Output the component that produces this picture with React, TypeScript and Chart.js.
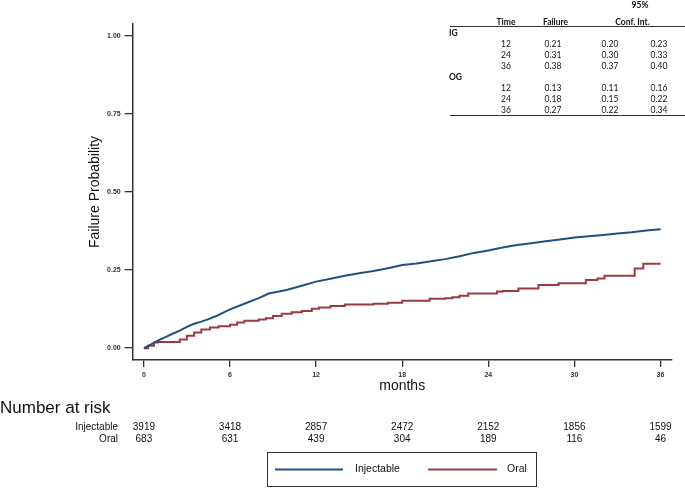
import React, { useEffect, useRef } from "react";
import { Chart, registerables } from "chart.js";

Chart.register(...registerables);

// ---- Data ----
const injMonths = [0, 0.5, 1, 1.5, 2, 2.5, 3, 3.5, 4, 4.5, 5, 5.5, 6, 7, 8, 8.7, 9.5, 10, 11, 12, 13, 14, 15, 16, 17, 18, 19, 20, 21, 22, 23, 24, 25, 26, 27, 28, 29, 30, 31, 32, 33, 34, 35, 36];
const injValues = [0, 0.012, 0.025, 0.035, 0.046, 0.056, 0.068, 0.078, 0.085, 0.093, 0.102, 0.113, 0.124, 0.142, 0.16, 0.175, 0.182, 0.187, 0.2, 0.213, 0.222, 0.232, 0.24, 0.247, 0.256, 0.266, 0.271, 0.278, 0.285, 0.294, 0.305, 0.313, 0.322, 0.33, 0.336, 0.342, 0.348, 0.354, 0.358, 0.362, 0.367, 0.371, 0.377, 0.381];

const oralMonths = [0, 0.3, 0.7, 1.0, 2.5, 3.0, 3.5, 4.0, 4.6, 5.2, 6.0, 6.5, 7.0, 8.0, 8.5, 9.0, 9.6, 10.3, 11.0, 11.7, 12.2, 13.0, 14.0, 16.0, 17.0, 18.0, 19.9, 21.0, 21.5, 22.0, 22.6, 24.6, 25.0, 26.1, 27.5, 28.9, 30.8, 31.6, 32.1, 34.2, 34.8, 36];
const oralValues = [0, 0.008, 0.018, 0.02, 0.028, 0.04, 0.05, 0.06, 0.066, 0.07, 0.075, 0.082, 0.088, 0.092, 0.096, 0.103, 0.11, 0.115, 0.119, 0.126, 0.13, 0.135, 0.14, 0.142, 0.145, 0.152, 0.158, 0.16, 0.163, 0.168, 0.175, 0.181, 0.183, 0.191, 0.202, 0.208, 0.218, 0.223, 0.232, 0.255, 0.27, 0.27];

const xTicks = [0, 6, 12, 18, 24, 30, 36];
const yTicks = [0, 0.25, 0.5, 0.75, 1.0];

const injectableAtRisk = [3919, 3418, 2857, 2472, 2152, 1856, 1599];
const oralAtRisk = [683, 631, 439, 304, 189, 116, 46];

const tableTimes = [12, 24, 36];
const igFailure = [0.21, 0.31, 0.38];
const igLower = [0.2, 0.3, 0.37];
const igUpper = [0.23, 0.33, 0.4];
const ogFailure = [0.13, 0.18, 0.27];
const ogLower = [0.11, 0.15, 0.22];
const ogUpper = [0.16, 0.22, 0.34];

const BLUE = "#22507e";
const RED = "#9c3a42";
const SANS = '"Liberation Sans", Arial, sans-serif';
const TABLEFONT = 'Lato, "Open Sans", sans-serif';

export default function App() {
  const ref = useRef<HTMLCanvasElement>(null);

  useEffect(() => {
    if (!ref.current) return;

    const overlay = {
      id: "overlay",
      afterDraw(chart: any) {
        const ctx = chart.ctx as CanvasRenderingContext2D;
        const xs = chart.scales.x;
        ctx.save();

        // ---- Number at risk ----
        ctx.fillStyle = "#111";
        ctx.font = `17px ${SANS}`;
        ctx.textAlign = "left";
        ctx.textBaseline = "alphabetic";
        ctx.fillText("Number at risk", 0, 413);

        ctx.font = `10px ${SANS}`;
        ctx.textBaseline = "middle";
        ctx.textAlign = "right";
        ctx.fillText("Injectable", 118, 427);
        ctx.fillText("Oral", 118, 439.5);
        ctx.textAlign = "center";
        xTicks.forEach((m, i) => {
          const px = xs.getPixelForValue(m);
          ctx.fillText(String(injectableAtRisk[i]), px, 427);
          ctx.fillText(String(oralAtRisk[i]), px, 439.5);
        });

        // ---- Legend ----
        ctx.strokeStyle = "#333";
        ctx.lineWidth = 1;
        ctx.strokeRect(267.5, 452.5, 269, 34);
        const ds = chart.data.datasets;
        const legendItems = [
          { x0: 275, x1: 343, tx: 355 },
          { x0: 428, x1: 497, tx: 507 },
        ];
        legendItems.forEach((it, i) => {
          ctx.strokeStyle = ds[i].borderColor;
          ctx.lineWidth = 2;
          ctx.beginPath();
          ctx.moveTo(it.x0, 469.5);
          ctx.lineTo(it.x1, 469.5);
          ctx.stroke();
          ctx.fillStyle = "#111";
          ctx.font = `10.5px ${SANS}`;
          ctx.textAlign = "left";
          ctx.textBaseline = "middle";
          ctx.fillText(ds[i].label, it.tx, 469.5);
        });

        // ---- Table ----
        ctx.fillStyle = "#111";
        ctx.textBaseline = "middle";
        ctx.font = `bold 8.5px ${TABLEFONT}`;
        ctx.textAlign = "center";
        ctx.fillText("95%", 640, 5);
        ctx.fillText("Time", 506, 22.5);
        ctx.fillText("Failure", 555.5, 22.5);
        ctx.fillText("Conf. Int.", 632.5, 22.5);
        ctx.strokeStyle = "#333";
        ctx.lineWidth = 1;
        ctx.beginPath();
        ctx.moveTo(450, 26.5);
        ctx.lineTo(685, 26.5);
        ctx.moveTo(450, 115.5);
        ctx.lineTo(685, 115.5);
        ctx.stroke();

        ctx.textAlign = "left";
        ctx.fillText("IG", 449, 33);
        ctx.fillText("OG", 449, 77);

        const groups = [
          { f: igFailure, lo: igLower, hi: igUpper, ys: [44, 55, 66] },
          { f: ogFailure, lo: ogLower, hi: ogUpper, ys: [88, 99, 110] },
        ];
        ctx.font = `8.5px ${TABLEFONT}`;
        ctx.textAlign = "center";
        groups.forEach((g) => {
          tableTimes.forEach((t, i) => {
            const y = g.ys[i];
            ctx.fillText(String(t), 506, y);
            ctx.fillText(g.f[i].toFixed(2), 553, y);
            ctx.fillText(g.lo[i].toFixed(2), 610, y);
            ctx.fillText(g.hi[i].toFixed(2), 659, y);
          });
        });

        ctx.restore();
      },
    };

    const chart = new Chart(ref.current, {
      type: "line",
      data: {
        datasets: [
          {
            label: "Injectable",
            data: injMonths.map((m, i) => ({ x: m, y: injValues[i] })),
            borderColor: BLUE,
            backgroundColor: BLUE,
            borderWidth: 2,
            pointRadius: 0,
            fill: false,
            tension: 0,
          },
          {
            label: "Oral",
            data: oralMonths.map((m, i) => ({ x: m, y: oralValues[i] })),
            borderColor: RED,
            backgroundColor: RED,
            borderWidth: 2,
            pointRadius: 0,
            fill: false,
            stepped: "before",
          },
        ],
      },
      options: {
        animation: false,
        responsive: false,
        devicePixelRatio: 1,
        layout: { padding: { left: 0, top: 24, right: 13.3, bottom: 91 } },
        plugins: {
          legend: { display: false },
          tooltip: { enabled: false },
        },
        scales: {
          x: {
            type: "linear",
            min: -0.78,
            max: 36.78,
            afterBuildTicks: (s: any) => {
              s.ticks = xTicks.map((v) => ({ value: v }));
            },
            afterFit: (s: any) => {
              s.height = 37;
            },
            grid: { drawOnChartArea: false, drawTicks: true, tickLength: 7, color: "#333", lineWidth: 1.3 },
            border: { display: true, color: "#333", width: 1.5 },
            ticks: {
              autoSkip: false,
              maxRotation: 0,
              padding: 4,
              color: "#333",
              font: { family: SANS, size: 7, weight: "bold" },
              callback: (v: any) => String(v),
            },
            title: {
              display: true,
              text: "months",
              color: "#111",
              font: { family: SANS, size: 14 },
              padding: { top: 0, bottom: 2 },
            },
          },
          y: {
            type: "linear",
            min: -0.038,
            max: 1.038,
            afterBuildTicks: (s: any) => {
              s.ticks = yTicks.map((v) => ({ value: v }));
            },
            afterFit: (s: any) => {
              s.width = 132.7;
            },
            grid: { drawOnChartArea: false, drawTicks: true, tickLength: 8, color: "#333", lineWidth: 1.3 },
            border: { display: true, color: "#333", width: 1.5 },
            ticks: {
              autoSkip: false,
              padding: 4,
              color: "#333",
              font: { family: SANS, size: 7, weight: "bold" },
              callback: (v: any) => Number(v).toFixed(2),
            },
            title: {
              display: true,
              text: "Failure Probability",
              color: "#111",
              font: { family: SANS, size: 14 },
              padding: { top: 86.6, bottom: 0 },
            },
          },
        },
      },
      plugins: [overlay],
    } as any);

    return () => chart.destroy();
  }, []);

  return (
    <div style={{ position: "absolute", left: 0, top: 0, width: 685, height: 488, background: "#fff" }}>
      <canvas ref={ref} width={685} height={488} style={{ width: 685, height: 488, display: "block" }} />
    </div>
  );
}
